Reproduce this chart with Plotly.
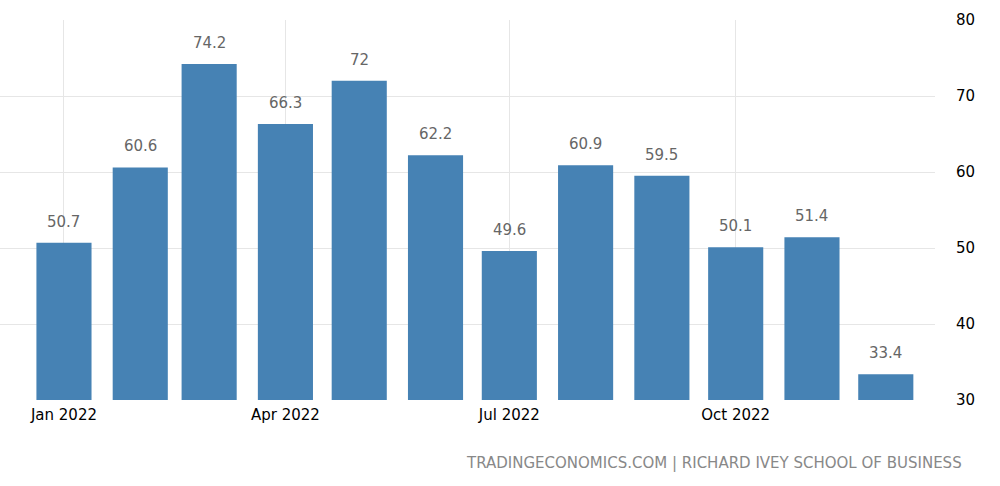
import plotly.graph_objects as go

months = ["2022-01-01","2022-02-01","2022-03-01","2022-04-01","2022-05-01","2022-06-01",
          "2022-07-01","2022-08-01","2022-09-01","2022-10-01","2022-11-01","2022-12-01"]
values = [50.7, 60.6, 74.2, 66.3, 72, 62.2, 49.6, 60.9, 59.5, 50.1, 51.4, 33.4]
labels = ["50.7","60.6","74.2","66.3","72","62.2","49.6","60.9","59.5","50.1","51.4","33.4"]
tick_vals = ["2022-01-01","2022-04-01","2022-07-01","2022-10-01"]
tick_text = ["Jan 2022","Apr 2022","Jul 2022","Oct 2022"]

fig = go.Figure(go.Bar(
    x=months, y=values,
    marker=dict(color="#4682b4", line_width=0),
    width=22.4*86400000,
))
ann = [dict(x=m, y=v, text=t, showarrow=False, yanchor="bottom", yshift=10,
            font=dict(color="#666666", size=15, family="DejaVu Sans"))
       for m, v, t in zip(months, values, labels)]
ann.append(dict(text="TRADINGECONOMICS.COM | RICHARD IVEY SCHOOL OF BUSINESS",
                xref="paper", yref="paper", x=964/935, y=-0.165, xanchor="right",
                yanchor="middle", showarrow=False,
                font=dict(size=15, color="#888888", family="DejaVu Sans")))
fig.update_layout(
    width=1000, height=486, margin=dict(l=0, r=65, t=20, b=86),
    plot_bgcolor="white", paper_bgcolor="white", showlegend=False,
    font=dict(family="DejaVu Sans", size=15, color="#000000"),
    xaxis=dict(type="date", range=["2021-12-06","2022-12-21"], tickvals=tick_vals,
               ticktext=tick_text, showgrid=True, gridcolor="#e6e6e6", ticks="",
               showline=False, zeroline=False, tickfont=dict(size=15, color="#000"),
               ticklabelstandoff=4),
    yaxis=dict(side="right", range=[30, 80], dtick=10, showgrid=True, gridcolor="#e6e6e6",
               zeroline=False, tickfont=dict(size=15, color="#000"), ticklabelstandoff=20),
    annotations=ann,
)
fig.write_html("out.html", config={"displayModeBar": False},
               post_script="document.body.style.margin='0';")
